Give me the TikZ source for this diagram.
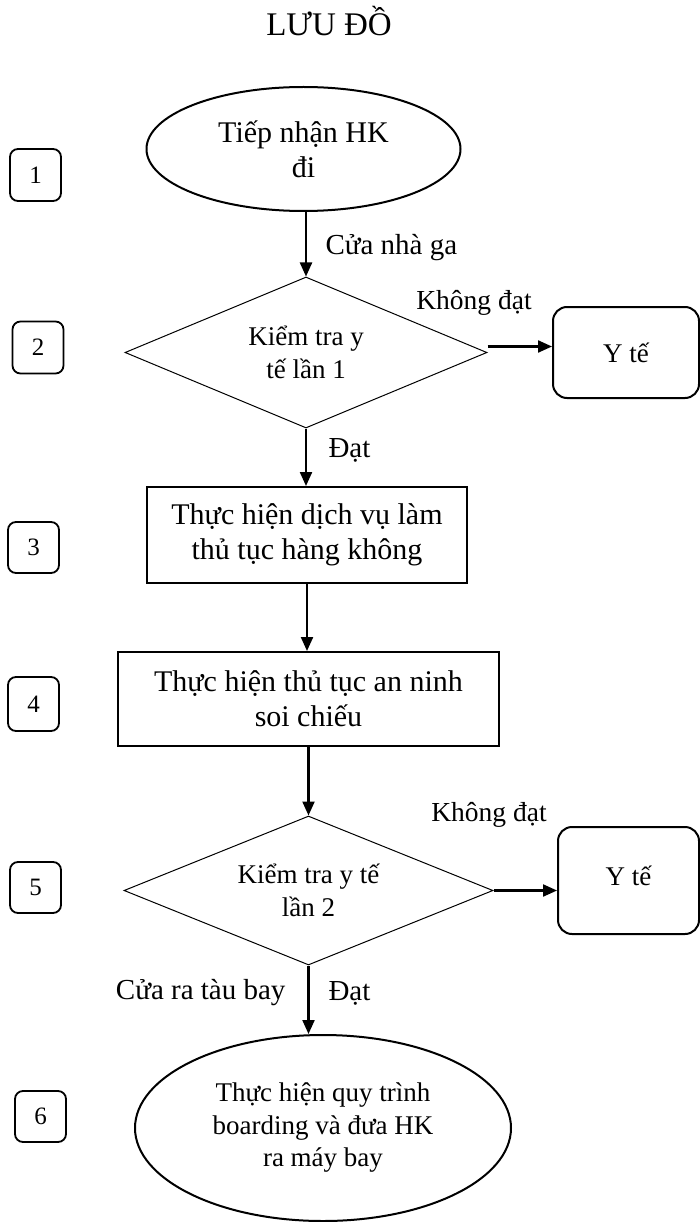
\documentclass[tikz,border=0pt]{standalone}
\usepackage{fontspec}
\setmainfont{Liberation Serif}
\usetikzlibrary{shapes.geometric,arrows.meta}
\begin{document}
\begin{tikzpicture}[x=1pt,y=-1pt,
  bigtxt/.style={font=\fontsize{30pt}{35pt}\selectfont},
  midtxt/.style={font=\fontsize{27pt}{32.5pt}\selectfont},
  lbltxt/.style={font=\fontsize{29pt}{34pt}\selectfont},
  kdtxt/.style={font=\fontsize{27.5pt}{32pt}\selectfont},
  numbox/.style={draw, line width=1.8pt, rounded corners=8pt, minimum width=51pt, minimum height=52pt, inner sep=0pt, font=\fontsize{25pt}{30pt}\selectfont},
  oval/.style={ellipse, draw, line width=2pt, inner sep=0pt, align=center},
  procbox/.style={rectangle, draw, line width=2pt, inner sep=0pt, align=center, bigtxt},
  decision/.style={diamond, draw, line width=1pt, inner sep=0pt, aspect=2.4, align=center, midtxt},
  medbox/.style={rectangle, draw, line width=2pt, rounded corners=14pt, inner sep=0pt, midtxt},
  arr/.style={line width=2.2pt, -{Triangle[length=14pt,width=12pt]}}
]
\useasboundingbox (0,0) rectangle (700,1222);

% title
\node[anchor=base, font=\fontsize{33pt}{38pt}\selectfont] (title) at (329,36) {LƯU ĐỒ};

% main flow
\node[oval, bigtxt, minimum width=314pt, minimum height=124pt] (e1) at (303.5,149) {Tiếp nhận HK\\đi};
\node[decision, minimum width=362pt, minimum height=151pt] (d1) at (306,352.5) {Kiểm tra y\\tế lần 1};
\node[medbox, minimum width=146pt, minimum height=91pt] (y1) at (626,352.5) {Y tế};
\node[procbox, minimum width=320pt, minimum height=96pt] (r3) at (307,535) {Thực hiện dịch vụ làm\\thủ tục hàng không};
\node[procbox, minimum width=381pt, minimum height=94pt] (r4) at (308.5,699) {Thực hiện thủ tục an ninh\\soi chiếu};
\node[decision, minimum width=369pt, minimum height=149pt] (d2) at (308.5,890.5) {Kiểm tra y tế\\lần 2};
\node[medbox, minimum width=141pt, minimum height=107pt, text depth=10pt] (y2) at (628.5,880.5) {Y tế};
\node[oval, midtxt, minimum width=376pt, minimum height=186pt] (e2) at (323,1128) {Thực hiện quy trình\\boarding và đưa HK\\ra máy bay};

% step numbers
\node[numbox] (n1) at (35.5,175) {1};
\node[numbox] (n2) at (38,347.5) {2};
\node[numbox, minimum height=51pt] (n3) at (33.5,547.5) {3};
\node[numbox, minimum height=54pt] (n4) at (33.5,704) {4};
\node[numbox, minimum height=51pt] (n5) at (35.5,887.5) {5};
\node[numbox, minimum height=51pt] (n6) at (40.5,1116.5) {6};

% connectors
\draw[arr] (e1.south -| d1.north) -- (d1.north);
\draw[arr] ([yshift=6pt]d1.east) -- ([yshift=6pt]d1.east -| y1.west);
\draw[arr] (d1.south) -- (d1.south |- r3.north);
\draw[arr] (r3.south) -- (r3.south |- r4.north);
\draw[arr] (r4.south) -- (r4.south |- d2.north);
\draw[arr] (d2.east) -- (d2.east -| y2.west);
\draw[arr] (d2.south) -- (d2.south |- e2.north);

% labels
\node[lbltxt, anchor=west] (l1) at (322,248) {Cửa nhà ga};
\node[kdtxt] (l2) at (474,303) {Không đạt};
\node[lbltxt, anchor=west] (l3) at (325,450) {Đạt};
\node[kdtxt] (l4) at (489,815) {Không đạt};
\node[lbltxt, anchor=east] (l5) at (289,993) {Cửa ra tàu bay};
\node[lbltxt, anchor=west] (l6) at (325,993) {Đạt};
\end{tikzpicture}
\end{document}
